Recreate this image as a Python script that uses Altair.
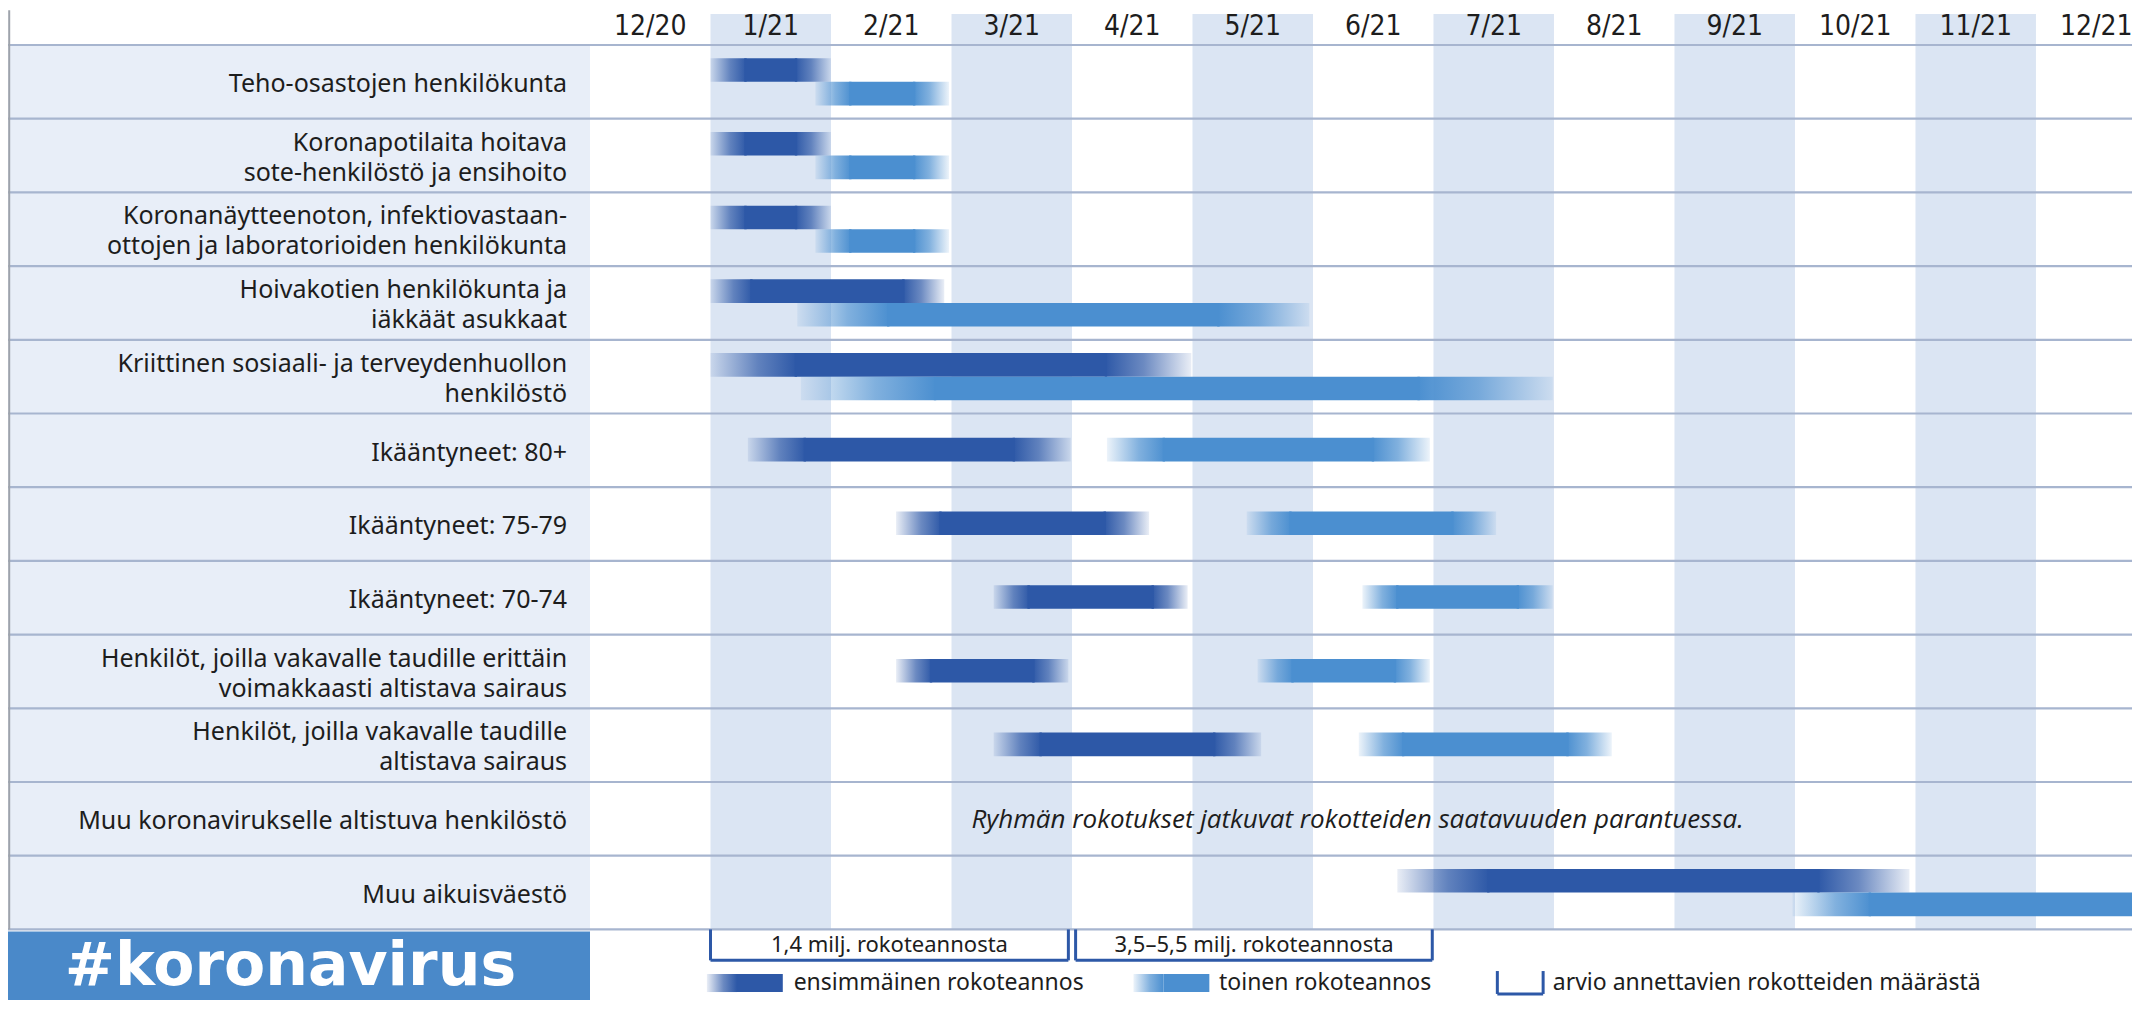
import altair as alt
import pandas as pd

# ---------------- data ----------------
months = ["12/20", "1/21", "2/21", "3/21", "4/21", "5/21", "6/21",
          "7/21", "8/21", "9/21", "10/21", "11/21", "12/21"]
shaded_months = [1, 3, 5, 7, 9, 11]

groups = [
    "Teho-osastojen henkilökunta",
    "Koronapotilaita hoitava\nsote-henkilöstö ja ensihoito",
    "Koronanäytteenoton, infektiovastaan-\nottojen ja laboratorioiden henkilökunta",
    "Hoivakotien henkilökunta ja\niäkkäät asukkaat",
    "Kriittinen sosiaali- ja terveydenhuollon\nhenkilöstö",
    "Ikääntyneet: 80+",
    "Ikääntyneet: 75-79",
    "Ikääntyneet: 70-74",
    "Henkilöt, joilla vakavalle taudille erittäin\nvoimakkaasti altistava sairaus",
    "Henkilöt, joilla vakavalle taudille\naltistava sairaus",
    "Muu koronavirukselle altistuva henkilöstö",
    "Muu aikuisväestö",
]
# months counted from the start of 12/2020 (0 = 1.12.2020, 1 = 1.1.2021 ...)
dark_start = [1.0, 1.0, 1.0, 1.0, 1.0, 1.31, 2.54, 3.35, 2.54, 3.35, None, 6.7]
dark_end = [2.0, 2.0, 2.0, 2.94, 4.99, 3.99, 4.64, 4.96, 3.97, 5.57, None, 10.95]
light_start = [1.87, 1.87, 1.87, 1.72, 1.75, 4.29, 5.45, 6.41, 5.54, 6.38, None, 9.98]
light_end = [2.98, 2.98, 2.98, 5.97, 7.99, 6.97, 7.52, 7.99, 6.97, 8.48, None, 13.6]
staggered = [True, True, True, True, True, False, False, False, False, False, False, True]

note_text = "Ryhmän rokotukset jatkuvat rokotteiden saatavuuden parantuessa."
note_row = 10

bracket_labels = ["1,4 milj. rokoteannosta", "3,5–5,5 milj. rokoteannosta"]
bracket_start = [1.0, 4.03]
bracket_end = [3.97, 6.99]

legend_labels = ["ensimmäinen rokoteannos", "toinen rokoteannos",
                 "arvio annettavien rokotteiden määrästä"]
logo_text = "#koronavirus"

# ---------------- styling ----------------
DARK = "#2d58a7"
DARK_RGB = (45, 88, 167)
LIGHT = "#4b8fd0"
LIGHT_RGB = (75, 143, 208)
TEXT = "#1d1d1d"
FONT = "Noto Sans"
NARROW = "Liberation Sans Narrow, DejaVu Sans Condensed, Noto Sans"
ROW_PX = 73.7
LABEL_LH = 30

X0, X1 = -4.83, 12.797
Y0, Y1 = -0.502, 12.958
xs = alt.Scale(domain=[X0, X1], nice=False, zero=False)
ys = alt.Scale(domain=[Y0, Y1], nice=False, zero=False, reverse=True)


def ex(f):
    return alt.X(f"{f}:Q", scale=xs, axis=None)


def ey(f):
    return alt.Y(f"{f}:Q", scale=ys, axis=None)


def grad(rgb, rev=False):
    stops = [(0.0, 0.10), (0.55, 0.70), (1.0, 1.0)]
    if rev:
        stops = [(1 - o, a) for o, a in stops][::-1]
    return alt.LinearGradient(
        gradient="linear", x1=0, x2=1, y1=0, y2=0,
        stops=[alt.GradientStop(color=f"rgba({rgb[0]},{rgb[1]},{rgb[2]},{a})", offset=o)
               for o, a in stops])


# ---------------- tables ----------------
recs = []
for i in range(len(groups)):
    for dose, s, e in (("dark", dark_start[i], dark_end[i]), ("light", light_start[i], light_end[i])):
        if s is None:
            continue
        if staggered[i]:
            y0 = i + (0.18 if dose == "dark" else 0.50)
        else:
            y0 = i + 0.33
        fade = max(0.3, 0.18 * (e - s))
        recs.append(dict(dose=dose, s=s, e=e, fs=s + fade, fe=e - fade,
                         cs=s + fade - 0.02, ce=e - fade + 0.02, y0=y0, y1=y0 + 0.32))
bars = pd.DataFrame(recs)

panel = pd.DataFrame([dict(x=X0, x2=0.0, y=0.0, y2=12.0)])
cols = pd.DataFrame([dict(x=m, x2=m + 1, y=Y0 + 0.08, y2=12.0) for m in shaded_months])
lines = pd.DataFrame(dict(r=list(range(13))))
border = pd.DataFrame([dict(x=X0 + 0.01, y=Y0 + 0.03, y2=12.0)])

label_r = []
for i, g in enumerate(groups):
    n = g.count("\n") + 1
    label_r.append(i + 0.53 - (n - 1) * LABEL_LH / 2 / ROW_PX)
labels = pd.DataFrame(dict(label=groups, r=label_r, lx=-0.19))
heads = pd.DataFrame(dict(month=months, mc=[i + 0.5 for i in range(len(months))], r=-0.25))
note = pd.DataFrame([dict(t=note_text, x=6.37, r=note_row + 0.52)])

logo_box = pd.DataFrame([dict(x=X0, x2=0.0, y=12.03, y2=Y1)])
logo = pd.DataFrame([dict(t=logo_text, x=-4.36, r=12.755)])

bseg = []
BB = 12.42
for s, e in zip(bracket_start, bracket_end):
    bseg += [dict(x=s, x2=s, y=12.0, y2=BB), dict(x=e, x2=e, y=12.0, y2=BB),
             dict(x=s, x2=e, y=BB, y2=BB)]
bseg = pd.DataFrame(bseg)
btext = pd.DataFrame(dict(t=bracket_labels,
                          x=[(s + e) / 2 for s, e in zip(bracket_start, bracket_end)],
                          r=12.205))

LY0, LY1, LYC = 12.605, 12.85, 12.727
leg_sw = pd.DataFrame([dict(dose="dark", s=0.97, fs=1.22, e=1.60),
                       dict(dose="light", s=4.51, fs=4.76, e=5.14)])
leg_sw["y0"] = LY0
leg_sw["y1"] = LY1
leg_txt = pd.DataFrame(dict(t=legend_labels, x=[1.69, 5.22, 7.99], r=LYC))
icon = pd.DataFrame([dict(x=7.53, x2=7.53, y=12.565, y2=12.876),
                     dict(x=7.91, x2=7.91, y=12.565, y2=12.876),
                     dict(x=7.53, x2=7.91, y=12.876, y2=12.876)])

# ---------------- layers ----------------
layers = []
layers.append(alt.Chart(panel).mark_rect(color="#e8eef8").encode(
    x=ex("x"), x2="x2", y=ey("y"), y2="y2"))
layers.append(alt.Chart(cols).mark_rect(color="#dbe5f3").encode(
    x=ex("x"), x2="x2", y=ey("y"), y2="y2"))
layers.append(alt.Chart(lines).mark_rule(color="#a7b5cf", strokeWidth=2.2).encode(y=ey("r")))
layers.append(alt.Chart(border).mark_rule(color="#9ea3ab", strokeWidth=2).encode(
    x=ex("x"), y=ey("y"), y2="y2"))

for dose, hexc, rgb in (("dark", DARK, DARK_RGB), ("light", LIGHT, LIGHT_RGB)):
    d = bars[bars.dose == dose]
    layers.append(alt.Chart(d).mark_rect(color=hexc, clip=True).encode(
        x=ex("cs"), x2="ce", y=ey("y0"), y2="y1"))
    layers.append(alt.Chart(d).mark_rect(fill=grad(rgb), strokeWidth=0, clip=True).encode(
        x=ex("s"), x2="fs", y=ey("y0"), y2="y1"))
    layers.append(alt.Chart(d).mark_rect(fill=grad(rgb, True), strokeWidth=0, clip=True).encode(
        x=ex("fe"), x2="e", y=ey("y0"), y2="y1"))

layers.append(alt.Chart(labels).mark_text(
    align="right", baseline="middle", font=FONT, fontSize=25, lineHeight=LABEL_LH,
    lineBreak="\n", color=TEXT).encode(x=ex("lx"), y=ey("r"), text="label:N"))
layers.append(alt.Chart(heads).mark_text(
    align="center", baseline="middle", font=NARROW, fontSize=28, color=TEXT).encode(
    x=ex("mc"), y=ey("r"), text="month:N"))
layers.append(alt.Chart(note).mark_text(
    align="center", baseline="middle", font="Open Sans", fontStyle="italic", fontSize=26,
    color=TEXT).encode(x=ex("x"), y=ey("r"), text="t:N"))

# logo
layers.append(alt.Chart(logo_box).mark_rect(color="#4a89c9").encode(
    x=ex("x"), x2="x2", y=ey("y"), y2="y2"))
layers.append(alt.Chart(logo).mark_text(
    align="left", baseline="alphabetic", font="DejaVu Sans", fontWeight="bold",
    fontSize=60, color="#ffffff").encode(x=ex("x"), y=ey("r"), text="t:N"))

# brackets
layers.append(alt.Chart(bseg).mark_rule(color=DARK, strokeWidth=3).encode(
    x=ex("x"), x2="x2", y=ey("y"), y2="y2"))
layers.append(alt.Chart(btext).mark_text(
    align="center", baseline="middle", font=FONT, fontSize=22, color=TEXT).encode(
    x=ex("x"), y=ey("r"), text="t:N"))

# legend
for dose, hexc, rgb in (("dark", DARK, DARK_RGB), ("light", LIGHT, LIGHT_RGB)):
    d = leg_sw[leg_sw.dose == dose]
    layers.append(alt.Chart(d).mark_rect(color=hexc).encode(
        x=ex("fs"), x2="e", y=ey("y0"), y2="y1"))
    layers.append(alt.Chart(d).mark_rect(fill=grad(rgb), strokeWidth=0).encode(
        x=ex("s"), x2="fs", y=ey("y0"), y2="y1"))
layers.append(alt.Chart(icon).mark_rule(color=DARK, strokeWidth=3).encode(
    x=ex("x"), x2="x2", y=ey("y"), y2="y2"))
layers.append(alt.Chart(leg_txt).mark_text(
    align="left", baseline="middle", font=FONT, fontSize=23, color=TEXT).encode(
    x=ex("x"), y=ey("r"), text="t:N"))

chart = alt.layer(*layers).properties(
    width=2124, height=992, padding=0,
    autosize=alt.AutoSizeParams(type="none"),
    background="#ffffff",
).configure_view(strokeWidth=0)

chart.save("out.html", embed_options={"renderer": "svg", "actions": False})
